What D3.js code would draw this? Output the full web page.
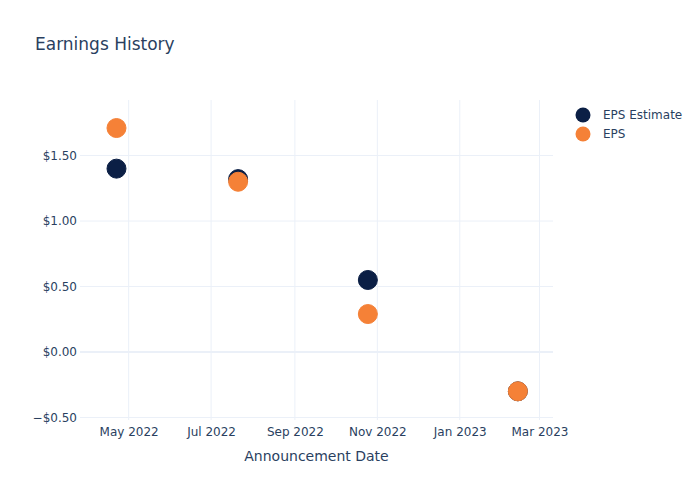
<!DOCTYPE html>
<html>
<head>
<meta charset="utf-8">
<script src="https://cdn.jsdelivr.net/npm/d3@7"></script>
<style>
  html, body { margin: 0; padding: 0; background: #fff; }
  svg text { font-family: "DejaVu Sans", Verdana, sans-serif; fill: #2a3f5f; }
</style>
</head>
<body>
<svg id="chart" width="700" height="500"></svg>
<script>
const dates = ["2022-04-22", "2022-07-21", "2022-10-25", "2023-02-13"];
const epsEstimate = [1.40, 1.32, 0.55, -0.30];
const epsActual = [1.71, 1.30, 0.29, -0.30];
const yTicks = [-0.5, 0, 0.5, 1.0, 1.5];
const xTicks = ["2022-05-01", "2022-07-01", "2022-09-01", "2022-11-01", "2023-01-01", "2023-03-01"];
const seriesNames = ["EPS Estimate", "EPS"];
const seriesColors = ["#0b1f45", "#f58137"];

const parse = d3.utcParse("%Y-%m-%d");
const svg = d3.select("#chart");
const W = 700, H = 500;
const m = { l: 80, r: 147, t: 100, b: 80 };

const x = d3.scaleUtc()
  .domain([parse("2022-03-26"), parse("2023-03-11")])
  .range([m.l, W - m.r]);
const y = d3.scaleLinear()
  .domain([-0.519, 1.924])
  .range([H - m.b, m.t]);

const grid = svg.append("g");
// vertical grid
grid.selectAll("line.vx").data(xTicks).enter().append("line")
  .attr("x1", d => x(parse(d))).attr("x2", d => x(parse(d)))
  .attr("y1", m.t).attr("y2", H - m.b)
  .attr("stroke", "#ebf0f8").attr("stroke-width", 1);
// horizontal grid
grid.selectAll("line.hy").data(yTicks).enter().append("line")
  .attr("x1", m.l).attr("x2", W - m.r)
  .attr("y1", d => y(d)).attr("y2", d => y(d))
  .attr("stroke", "#ebf0f8").attr("stroke-width", d => d === 0 ? 2 : 1);

// y axis
const yAxis = d3.axisLeft(y).tickValues(yTicks).tickSize(0).tickPadding(3)
  .tickFormat(d => (d < 0 ? "\u2212$" : "$") + Math.abs(d).toFixed(2));
const gy = svg.append("g").attr("transform", `translate(${m.l},0)`).call(yAxis);
gy.select(".domain").remove();
gy.selectAll("text").style("font-size", "12px").attr("fill", "#2a3f5f");

// x axis
const xAxis = d3.axisBottom(x).tickValues(xTicks.map(parse)).tickSize(0).tickPadding(7)
  .tickFormat(d3.utcFormat("%b %Y"));
const gx = svg.append("g").attr("transform", `translate(0,${H - m.b})`).call(xAxis);
gx.select(".domain").remove();
gx.selectAll("text").style("font-size", "12px").attr("fill", "#2a3f5f");

// axis title
svg.append("text").attr("x", (m.l + W - m.r) / 2).attr("y", 461)
  .attr("text-anchor", "middle").style("font-size", "14px").text("Announcement Date");

// title
svg.append("text").attr("x", 35).attr("y", 50)
  .style("font-size", "17px").text("Earnings History");

// points
const series = [epsEstimate, epsActual];
series.forEach((vals, i) => {
  svg.append("g").selectAll("circle").data(vals).enter().append("circle")
    .attr("cx", (d, j) => x(parse(dates[j])))
    .attr("cy", d => y(d))
    .attr("r", 9.5)
    .attr("fill", seriesColors[i])
    .attr("stroke", seriesColors[i])
    .attr("stroke-width", 1);
});

// legend
const lg = svg.append("g");
seriesNames.forEach((name, i) => {
  const yy = 115 + i * 19;
  lg.append("circle").attr("cx", 583).attr("cy", yy).attr("r", 7.5)
    .attr("fill", seriesColors[i]);
  lg.append("text").attr("x", 603).attr("y", yy + 4)
    .style("font-size", "12px").text(name);
});
</script>
</body>
</html>
